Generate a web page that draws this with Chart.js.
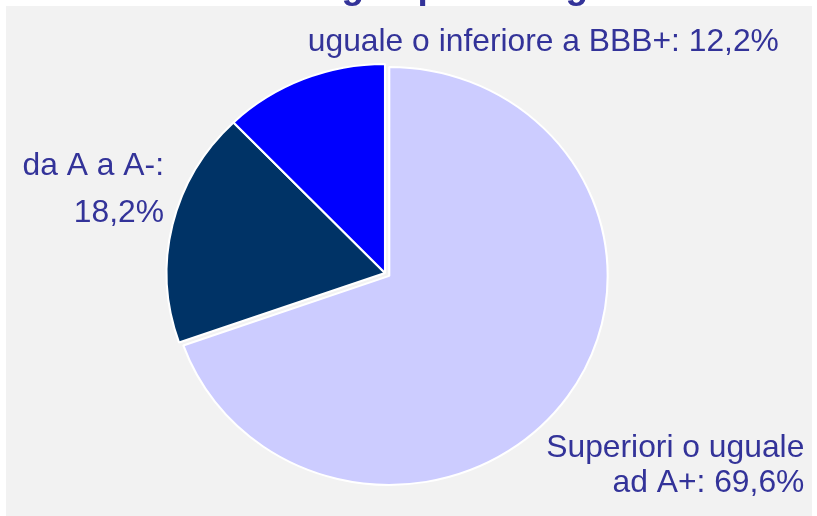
<!DOCTYPE html>
<html>
<head>
<meta charset="utf-8">
<script src="https://cdn.jsdelivr.net/npm/chart.js@4.4.0/dist/chart.umd.min.js"></script>
<style>
  html, body { margin: 0; padding: 0; background: #ffffff; }
  #wrap { width: 817px; height: 516px; }
</style>
</head>
<body>
<div id="wrap"><canvas id="myChart" width="817" height="516"></canvas></div>
<script>
// dati del grafico
const titolo = 'Portafoglio per rating';
const categorie = ['Superiori o uguale\nad A+', 'da A a A-', 'uguale o inferiore a BBB+'];
const percentuali = [69.6, 18.2, 12.2];
const colori = ['#ccccff', '#003366', '#0000ff'];
const esplosione = [5, 0, 0]; // spostamento in px della fetta

const coloreTesto = '#333399';
const stretchX = 1.045; // la torta originale e' leggermente ovale

// posizione delle etichette rispetto al centro della torta (in raggi)
const posEtichette = [
  { align: 'right', dx: 1.92, dy: 0.88, lh: 35, breakAfterColon: false },
  { align: 'right', dx: -1.012, dy: -0.47, lh: 47, breakAfterColon: true },
  { align: 'center', dx: 0.725, dy: -1.06, lh: 35, breakAfterColon: false }
];

function formatPct(v) {
  return v.toFixed(1).replace('.', ',') + '%';
}

const sfondo = {
  id: 'sfondo',
  beforeDraw(chart) {
    const ctx = chart.ctx;
    ctx.save();
    ctx.fillStyle = '#ffffff';
    ctx.fillRect(0, 0, chart.width, chart.height);
    ctx.fillStyle = '#f2f2f2';
    ctx.fillRect(6, 6, chart.width - 11, chart.height - 6);
    ctx.restore();
  }
};

// sposta le fette senza ingrandirle (l'offset di Chart.js allarga il raggio)
const esploso = {
  id: 'esploso',
  afterUpdate(chart) {
    chart.getDatasetMeta(0).data.forEach((arc, i) => {
      if (arc._wrapped || !esplosione[i]) return;
      const orig = arc.draw.bind(arc);
      arc.draw = function (ctx) {
        const mid = (this.startAngle + this.endAngle) / 2;
        ctx.save();
        ctx.translate(Math.cos(mid) * esplosione[i], Math.sin(mid) * esplosione[i]);
        orig(ctx);
        ctx.restore();
      };
      arc._wrapped = true;
    });
  }
};

const ovale = {
  id: 'ovale',
  beforeDatasetsDraw(chart) {
    const arc = chart.getDatasetMeta(0).data[0];
    const ctx = chart.ctx;
    ctx.save();
    ctx.translate(arc.x, arc.y);
    ctx.scale(stretchX, 1);
    ctx.translate(-arc.x, -arc.y);
  },
  afterDatasetsDraw(chart) {
    chart.ctx.restore();
  }
};

const etichette = {
  id: 'etichette',
  afterDraw(chart) {
    const ctx = chart.ctx;
    const meta = chart.getDatasetMeta(0);
    const cx = meta.data[0].x;
    const cy = meta.data[0].y;
    const r = meta.data[0].outerRadius;

    ctx.save();
    // titolo (tagliato in alto come nell'originale)
    ctx.fillStyle = coloreTesto;
    ctx.font = 'bold 37px "Liberation Sans", Arial, sans-serif';
    ctx.textAlign = 'center';
    ctx.textBaseline = 'alphabetic';
    ctx.fillText(titolo, 400, -2);

    ctx.font = '31.8px "Liberation Sans", Arial, sans-serif';
    categorie.forEach((cat, i) => {
      const p = posEtichette[i];
      const testo = cat + ':' + (p.breakAfterColon ? '\n' : ' ') + formatPct(percentuali[i]);
      const righe = testo.split('\n');
      const x = cx + p.dx * r * stretchX;
      const y = cy + p.dy * r;
      ctx.textAlign = p.align;
      righe.forEach((riga, k) => {
        ctx.fillText(riga, x, y + k * p.lh);
      });
    });
    ctx.restore();
  }
};

const ctx = document.getElementById('myChart').getContext('2d');
const myChart = new Chart(ctx, {
  type: 'pie',
  data: {
    labels: categorie,
    datasets: [{
      data: percentuali,
      backgroundColor: colori,
      borderColor: '#ffffff',
      borderWidth: 2
    }]
  },
  options: {
    responsive: false,
    animation: false,
    radius: 209,
    layout: { padding: { left: 0, right: 47, top: 30, bottom: 0 } },
    plugins: {
      legend: { display: false },
      title: { display: false },
      tooltip: { enabled: false }
    }
  },
  plugins: [sfondo, esploso, ovale, etichette]
});
myChart.draw();
</script>
</body>
</html>
